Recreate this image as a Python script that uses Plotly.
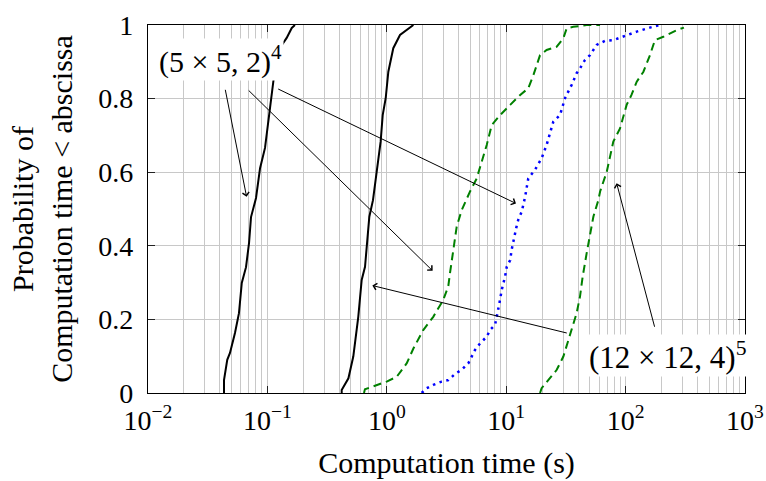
import plotly.graph_objects as go

# ---- data ----
fast_a_x = [0.0433, 0.0433, 0.0461, 0.0486, 0.0535, 0.0578, 0.0610, 0.0662, 0.0702, 0.0729,
            0.0803, 0.0868, 0.0955, 0.1031, 0.1114, 0.1158, 0.1276, 0.145, 0.160, 0.170]
fast_a_y = [0.0, 0.035, 0.090, 0.109, 0.163, 0.217, 0.299, 0.342, 0.408, 0.478,
            0.530, 0.611, 0.666, 0.755, 0.845, 0.883, 0.938, 0.965, 0.992, 1.0]

fast_b_x = [0.419, 0.419, 0.477, 0.524, 0.577, 0.616, 0.657, 0.687, 0.714, 0.766,
            0.832, 0.888, 0.924, 0.979, 1.030, 1.133, 1.29, 1.51, 1.67]
fast_b_y = [0.0, 0.008, 0.040, 0.099, 0.207, 0.307, 0.343, 0.407, 0.479, 0.524,
            0.620, 0.683, 0.755, 0.801, 0.873, 0.937, 0.973, 0.991, 1.0]

green_a_x = [0.644, 0.656, 0.998, 1.21, 1.47, 1.67, 2.02, 2.45, 2.97, 3.27, 3.38, 3.60, 3.85,
             4.24, 4.97, 5.66, 6.23, 6.87, 7.56, 8.88, 10.8, 13.1, 15.3, 16.9, 19.2, 21.8,
             26.5, 30.1, 32.1, 36.5, 47.2, 61.1]
green_a_y = [0.0, 0.010, 0.031, 0.044, 0.081, 0.121, 0.171, 0.207, 0.253, 0.289, 0.325, 0.389,
             0.452, 0.497, 0.547, 0.583, 0.629, 0.674, 0.728, 0.755, 0.783, 0.810, 0.828, 0.864,
             0.918, 0.932, 0.941, 0.964, 0.991, 0.995, 1.0, 1.0]

blue_x = [1.96, 2.16, 2.45, 2.88, 3.28, 3.73, 4.24, 4.82, 5.14, 5.48, 6.04, 6.87, 7.32, 8.06,
          8.33, 8.59, 8.88, 9.17, 9.78, 10.1, 10.8, 11.1, 11.5, 11.8, 12.2, 12.6, 13.5, 14.4,
          15.3, 17.4, 19.8, 21.8, 24.8, 28.2, 31.1, 33.1, 35.3, 38.9, 41.5, 45.7, 50.3, 57.3,
          67.3, 78.9, 102, 124, 160, 194]
blue_y = [0.0, 0.013, 0.022, 0.031, 0.035, 0.052, 0.063, 0.081, 0.099, 0.117, 0.135, 0.153,
          0.171, 0.185, 0.207, 0.235, 0.253, 0.280, 0.316, 0.343, 0.361, 0.389, 0.416, 0.434,
          0.452, 0.470, 0.493, 0.533, 0.583, 0.606, 0.638, 0.674, 0.737, 0.755, 0.801, 0.819,
          0.837, 0.869, 0.882, 0.905, 0.918, 0.946, 0.957, 0.959, 0.973, 0.982, 0.993, 1.0]

green_b_x = [19.2, 19.8, 22.5, 26.5, 30.1, 33.1, 35.3, 38.9, 41.5, 43.7, 47.2, 50.3, 53.7, 59.1,
             61.1, 69.5, 74.0, 78.9, 89.8, 95.7, 102, 112, 124, 141, 160, 176, 207, 268, 308]
green_b_y = [0.0, 0.013, 0.035, 0.063, 0.099, 0.144, 0.171, 0.217, 0.262, 0.316, 0.380, 0.434,
             0.479, 0.524, 0.547, 0.601, 0.638, 0.683, 0.719, 0.755, 0.783, 0.810, 0.846, 0.873,
             0.918, 0.959, 0.968, 0.986, 0.993]

x_tick_vals = [0.01, 0.1, 1, 10, 100, 1000]
x_tick_text = ["10<sup>−2</sup>", "10<sup>−1</sup>", "10<sup>0</sup>",
               "10<sup>1</sup>", "10<sup>2</sup>", "10<sup>3</sup>"]
y_tick_vals = [0, 0.2, 0.4, 0.6, 0.8, 1]
y_tick_text = ["0", "0.2", "0.4", "0.6", "0.8", "1"]

label_small = "(5 × 5, 2)<sup>4</sup>"
label_large = "(12 × 12, 4)<sup>5</sup>"

FONT = "Liberation Serif"
GRID = "#c8c8c8"

fig = go.Figure()
fig.add_trace(go.Scatter(x=fast_a_x, y=fast_a_y, mode="lines",
                         line=dict(color="black", width=2)))
fig.add_trace(go.Scatter(x=fast_b_x, y=fast_b_y, mode="lines",
                         line=dict(color="black", width=2)))
fig.add_trace(go.Scatter(x=green_a_x, y=green_a_y, mode="lines",
                         line=dict(color="#008000", width=2, dash="8px,5px")))
fig.add_trace(go.Scatter(x=blue_x, y=blue_y, mode="lines",
                         line=dict(color="#0000ff", width=2.5, dash="2.5px,4.5px")))
fig.add_trace(go.Scatter(x=green_b_x, y=green_b_y, mode="lines",
                         line=dict(color="#008000", width=2, dash="8px,5px")))

minor_vals = [m * 10 ** e for e in range(-2, 3) for m in range(2, 10)]

fig.update_layout(
    width=766, height=481,
    margin=dict(l=148, r=21, t=25, b=88),
    paper_bgcolor="white", plot_bgcolor="white",
    showlegend=False,
    font=dict(family=FONT, size=28, color="black"),
    xaxis=dict(
        type="log", range=[-2, 3], automargin=False,
        tickmode="array", tickvals=x_tick_vals, ticktext=x_tick_text,
        ticks="inside", ticklen=7, tickwidth=1.2, tickcolor="#222",
        showline=True, linecolor="black", linewidth=1.2, mirror="allticks",
        showgrid=True, gridcolor=GRID, gridwidth=1, zeroline=False,
        minor=dict(tickmode="array", tickvals=minor_vals, showgrid=True,
                   gridcolor=GRID, gridwidth=1, ticks=""),
        tickfont=dict(size=28), ticklabelstandoff=2,
        title=dict(text="Computation time (s)", font=dict(size=30), standoff=17),
    ),
    yaxis=dict(
        range=[0, 1], automargin=False,
        tickmode="array", tickvals=y_tick_vals, ticktext=y_tick_text,
        ticks="inside", ticklen=7, tickwidth=1.2, tickcolor="#222",
        showline=True, linecolor="black", linewidth=1.2, mirror="allticks",
        showgrid=True, gridcolor=GRID, gridwidth=1, zeroline=False,
        tickfont=dict(size=28), ticklabelstandoff=8,
        title=dict(text="Probability of<br>Computation time &lt; abscissa",
                   font=dict(size=30), standoff=16),
    ),
)

arrow_style = dict(xref="x", yref="y", axref="x", ayref="y", text="",
                   showarrow=True, arrowhead=4, arrowsize=1.3, arrowwidth=1,
                   arrowcolor="black", standoff=0, startstandoff=0)
arrows = [
    (-1.355, 0.828, -1.174, 0.533),
    (-1.169, 0.826, 0.384, 0.332),
    (-0.922, 0.828, 1.082, 0.515),
    (1.520, 0.162, -0.121, 0.292),
    (2.246, 0.176, 1.925, 0.570),
]
for ax_, ay_, x_, y_ in arrows:
    fig.add_annotation(x=x_, y=y_, ax=ax_, ay=ay_, **arrow_style)

fig.add_annotation(x=-1.397, y=0.905, xref="x", yref="y", text=label_small,
                   showarrow=False, bgcolor="white", font=dict(size=30), borderpad=1)
fig.add_annotation(x=2.347, y=0.103, xref="x", yref="y", text=label_large,
                   showarrow=False, bgcolor="white", font=dict(size=31), borderpad=1)

fig.write_html("out.html",
               config={"displayModeBar": False},
               post_script="document.body.style.margin='0px';document.body.style.overflow='hidden';")
